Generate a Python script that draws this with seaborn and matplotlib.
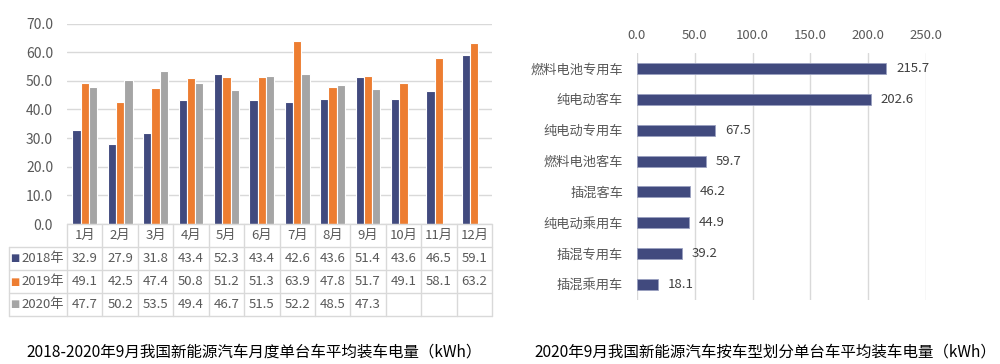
import matplotlib
matplotlib.use("Agg")
import matplotlib.pyplot as plt
import matplotlib.transforms as mtrans
import seaborn as sns
import numpy as np
import pandas as pd

# data
months = ['1月', '2月', '3月', '4月', '5月', '6月', '7月', '8月', '9月', '10月', '11月', '12月']
years = ['2018年', '2019年', '2020年']
v2018 = [32.9, 27.9, 31.8, 43.4, 52.3, 43.4, 42.6, 43.6, 51.4, 43.6, 46.5, 59.1]
v2019 = [49.1, 42.5, 47.4, 50.8, 51.2, 51.3, 63.9, 47.8, 51.7, 49.1, 58.1, 63.2]
v2020 = [47.7, 50.2, 53.5, 49.4, 46.7, 51.5, 52.2, 48.5, 47.3, np.nan, np.nan, np.nan]

types = ['燃料电池专用车', '纯电动客车', '纯电动专用车', '燃料电池客车',
         '插混客车', '纯电动乘用车', '插混专用车', '插混乘用车']
type_vals = [215.7, 202.6, 67.5, 59.7, 46.2, 44.9, 39.2, 18.1]

title_left = '2018-2020年9月我国新能源汽车月度单台车平均装车电量（kWh）'
title_right = '2020年9月我国新能源汽车按车型划分单台车平均装车电量（kWh）'

sns.set_theme(style='white')
plt.rcParams['font.family'] = ['Noto Sans CJK SC', 'DejaVu Sans']

NAVY = '#414A7E'
ORANGE = '#ED7D31'
GRAY = '#A5A5A5'
TXT = '#595959'
LINE = '#D9D9D9'

W, H = 1000, 364
fig = plt.figure(figsize=(W / 100, H / 100), dpi=100)


def fy(py):
    return 1 - py / H


# ---------- left: grouped bars + table ----------
ax1 = fig.add_axes([67 / W, fy(224), (492 - 67) / W, (224 - 23.5) / H])
df = pd.DataFrame({
    'month': months * 3,
    'year': [years[0]] * 12 + [years[1]] * 12 + [years[2]] * 12,
    'val': v2018 + v2019 + v2020,
})
sns.barplot(data=df, x='month', y='val', hue='year', order=months,
            palette=[NAVY, ORANGE, GRAY], width=0.7, errorbar=None, saturation=1,
            edgecolor='white', linewidth=0.8, ax=ax1, legend=False)
ax1.set_ylim(0, 70)
ax1.set_xlim(-0.5, 11.5)
ax1.set_yticks(np.arange(0, 71, 10))
ax1.set_yticklabels([f'{t:.1f}' for t in np.arange(0, 71, 10)], color=TXT, fontsize=10)
ax1.set_xticks([])
ax1.set(xlabel='', ylabel='')
ax1.tick_params(axis='y', length=0, pad=10)
ax1.grid(axis='y', color=LINE, linewidth=1)
ax1.set_axisbelow(True)
for s in ax1.spines.values():
    s.set_visible(False)

bt = mtrans.blended_transform_factory(ax1.transData, fig.transFigure)
rows_y = [224, 247, 270, 293, 316]
# table lines
for i, py in enumerate(rows_y):
    x0 = -0.5 if i == 0 else -0.5 - 58 / 35.4
    ax1.plot([x0, 11.5], [fy(py), fy(py)], color=LINE, lw=1, transform=bt, clip_on=False)
for k in range(13):
    ax1.plot([k - 0.5, k - 0.5], [fy(224), fy(316)], color=LINE, lw=1, transform=bt, clip_on=False)
xl = -0.5 - 58 / 35.4
ax1.plot([xl, xl], [fy(247), fy(316)], color=LINE, lw=1, transform=bt, clip_on=False)

for i, m in enumerate(months):
    ax1.text(i, fy(235.5), m, ha='center', va='center', color=TXT, fontsize=9.5, transform=bt)
for r, (yr, vals, c) in enumerate(zip(years, [v2018, v2019, v2020], [NAVY, ORANGE, GRAY])):
    cy = fy(258.5 + 23 * r)
    fig.text(15 / W, cy, '■', color=c, fontsize=7, ha='center', va='center',
             family=['DejaVu Sans'])
    fig.text(21 / W, cy, yr, color=TXT, fontsize=9.5, ha='left', va='center')
    for i, v in enumerate(vals):
        if not np.isnan(v):
            ax1.text(i, cy, f'{v:.1f}', ha='center', va='center', color=TXT,
                     fontsize=9.5, transform=bt)

fig.text(254 / W, fy(352), title_left, ha='center', va='center', fontsize=11.2, color='black')

# ---------- right: horizontal bars ----------
ax2 = fig.add_axes([637 / W, fy(300), (926 - 637) / W, (300 - 53) / H])
sns.barplot(x=type_vals, y=types, orient='h', color=NAVY, width=0.36, saturation=1,
            edgecolor='#9AA0C0', linewidth=0.6, ax=ax2)
ax2.set_xlim(0, 250)
ax2.set_xticks(np.arange(0, 251, 50))
ax2.set_xticklabels([f'{t:.1f}' for t in np.arange(0, 251, 50)], color=TXT, fontsize=9.5)
ax2.xaxis.tick_top()
ax2.tick_params(axis='x', length=0, pad=8)
ax2.tick_params(axis='y', length=0, pad=10, labelcolor=TXT, labelsize=9.5)
ax2.grid(axis='x', color=LINE, linewidth=1)
ax2.set_axisbelow(True)
for s in ax2.spines.values():
    s.set_visible(False)
ax2.bar_label(ax2.containers[0], labels=[f'{v:.1f}' for v in type_vals],
              padding=7, color='#404040', fontsize=9.5, clip_on=False)

fig.text(765 / W, fy(352), title_right, ha='center', va='center', fontsize=11.2, color='black')

fig.savefig('out.png', dpi=100, facecolor='white')
